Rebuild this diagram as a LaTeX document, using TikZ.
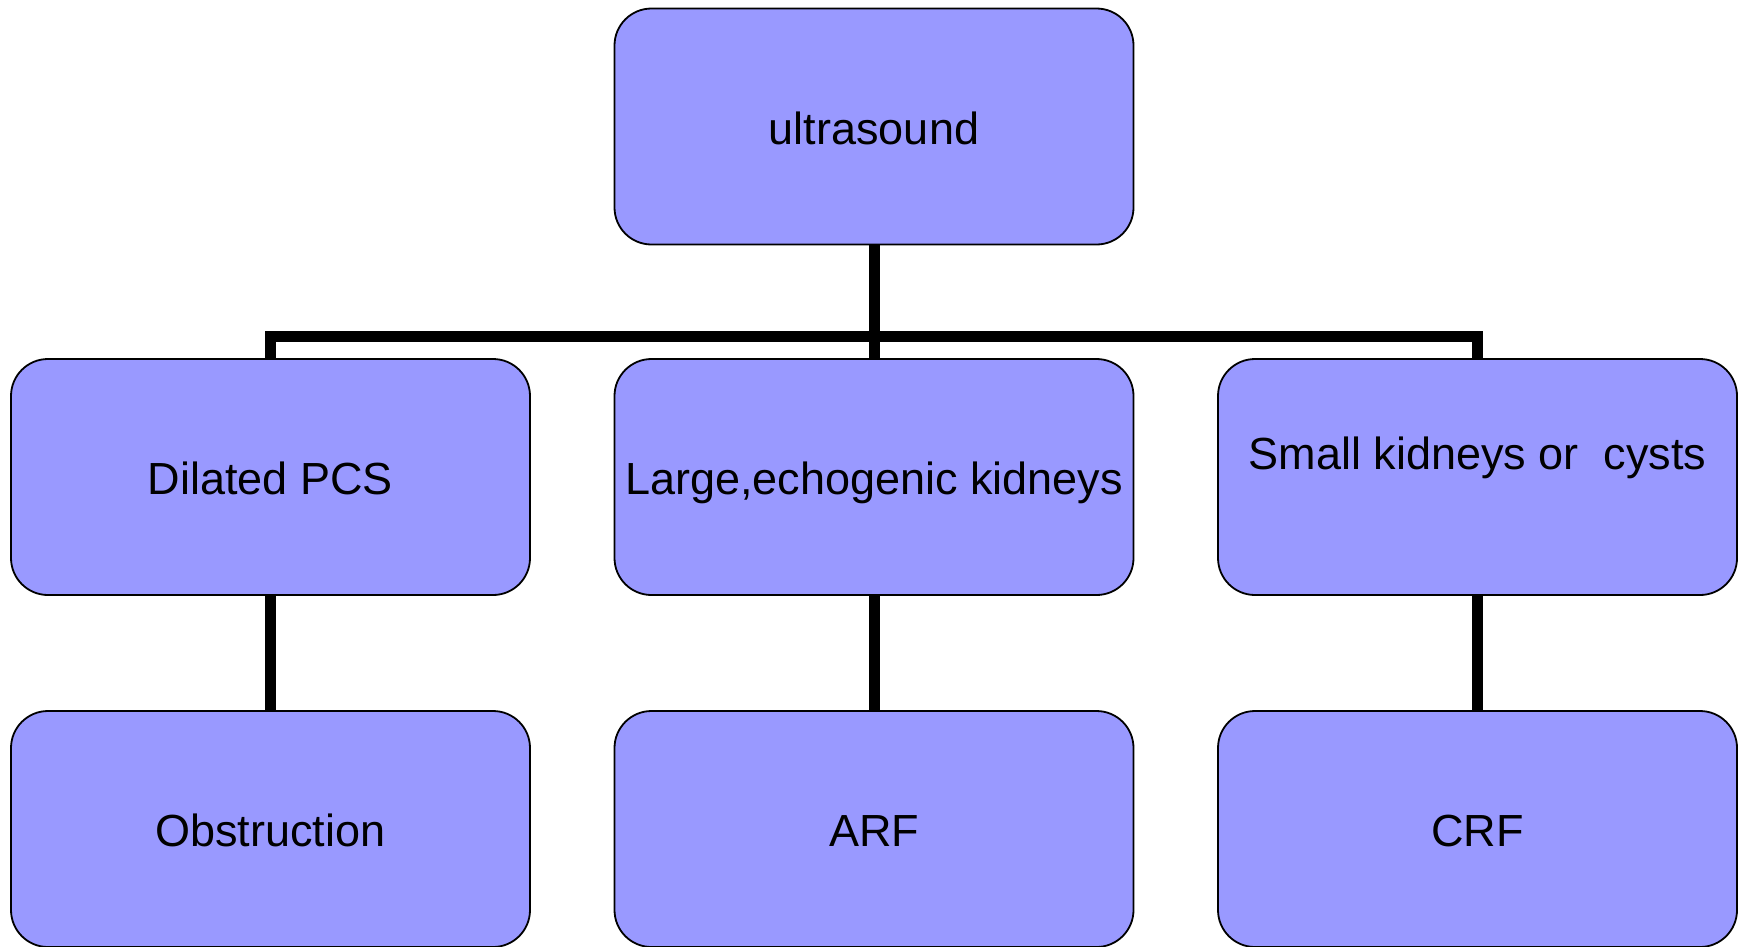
\documentclass[tikz,border=0pt]{standalone}
\usepackage{fontspec}
\setmainfont{Liberation Sans}
\definecolor{boxfill}{RGB}{153,153,255}
\begin{document}
\begin{tikzpicture}[x=1pt,y=-1pt,
  box/.style={draw=black, line width=1.8pt, fill=boxfill, rounded corners=37pt,
    minimum width=519pt, minimum height=236pt, inner sep=0pt, outer sep=0pt,
    font=\fontsize{45pt}{50pt}\selectfont, text height=44.7pt, text depth=9.5pt},
  conn/.style={draw=black, line width=11pt}]
\clip (0,0) rectangle (1744,946);
\fill[white] (0,0) rectangle (1744,946);
\node[box] (us) at (874,126.5) {ultrasound};
\node[box] (dil) at (270.5,477) {Dilated PCS};
\node[box] (large) at (874,477) {Large,echogenic kidneys};
\node[box, text depth=59.5pt] (small) at (1477.5,477) {Small kidneys or\ \ cysts};
\node[box] (obs) at (270.5,829) {Obstruction};
\node[box] (arf) at (874,829) {ARF};
\node[box] (crf) at (1477.5,829) {CRF};
\draw[conn] (us.south) -- (large.north);
\draw[conn] (dil.north) -- ++(0,-23) -| (small.north);
\draw[conn] (dil.south) -- (obs.north);
\draw[conn] (large.south) -- (arf.north);
\draw[conn] (small.south) -- (crf.north);
\end{tikzpicture}
\end{document}
